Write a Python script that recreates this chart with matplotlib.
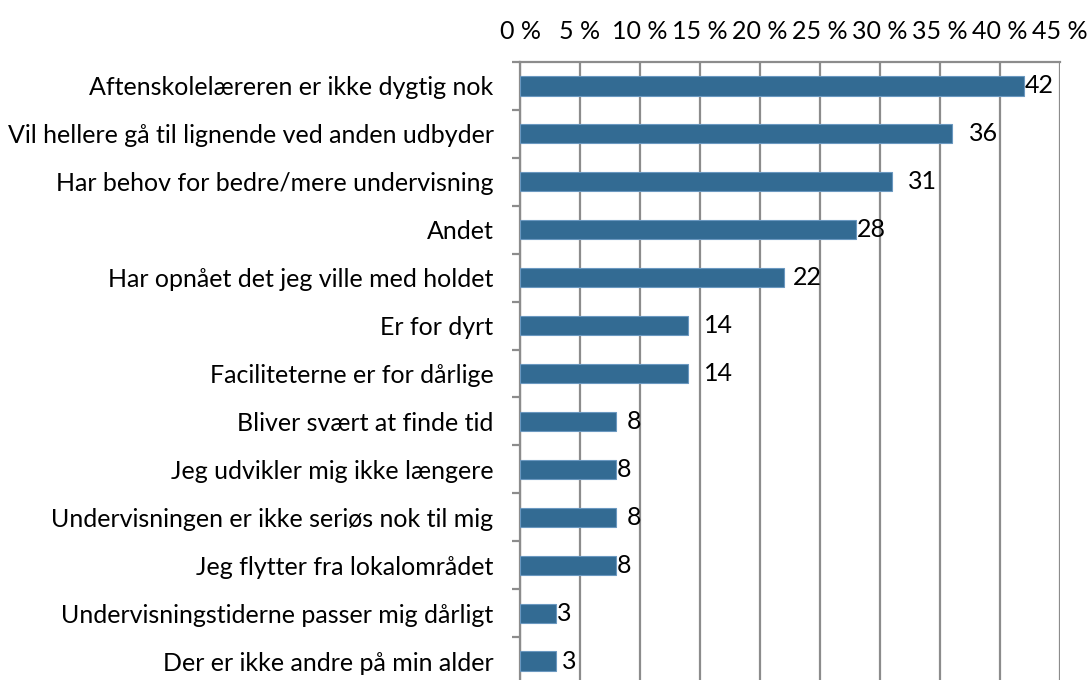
import matplotlib
matplotlib.use("Agg")
import matplotlib.pyplot as plt
import numpy as np
from matplotlib.ticker import FixedLocator, FuncFormatter

categories = [
    "Aftenskolelæreren er ikke dygtig nok",
    "Vil hellere gå til lignende ved anden udbyder",
    "Har behov for bedre/mere undervisning",
    "Andet",
    "Har opnået det jeg ville med holdet",
    "Er for dyrt",
    "Faciliteterne er for dårlige",
    "Bliver svært at finde tid",
    "Jeg udvikler mig ikke længere",
    "Undervisningen er ikke seriøs nok til mig",
    "Jeg flytter fra lokalområdet",
    "Undervisningstiderne passer mig dårligt",
    "Der er ikke andre på min alder",
]
values = [42, 36, 31, 28, 22, 14, 14, 8, 8, 8, 8, 3, 3]
x_ticks = [0, 5, 10, 15, 20, 25, 30, 35, 40, 45]

# label gaps as placed in the original (pixels)
label_gap = [1, 17, 16, 1, 9, 16, 16, 11, 1, 11, 1, 1, 6]

plt.rcParams['font.family'] = ['Lato', 'DejaVu Sans']

BAR = '#336b93'
GRID = '#8c8c8c'
DPI = 100
FS = 18

fig = plt.figure(figsize=(10.88, 6.8), dpi=DPI)
# plot area: x 520..1060 px, y 62..685 px (bottom runs off the image)
ax = fig.add_axes([520/1088, 1 - 685/680, 540/1088, 623/680])

y = np.arange(len(categories))
ax.barh(y, values, height=0.4, color=BAR, edgecolor='#6a98c0', linewidth=0.8, zorder=3)

ax.set_xlim(0, 45)
ax.set_ylim(len(categories) - 0.5, -0.5)

ax.xaxis.tick_top()
ax.xaxis.set_major_locator(FixedLocator(x_ticks))
ax.xaxis.set_major_formatter(FuncFormatter(lambda v, p: '{} %'.format(int(v))))
ax.tick_params(axis='x', length=0, pad=14, labelsize=FS)
ax.grid(axis='x', color=GRID, linewidth=1.6, zorder=0)

ax.set_yticks(y)
ax.set_yticklabels(categories)
ax.tick_params(axis='y', length=0, pad=19, labelsize=FS)
ax.yaxis.set_minor_locator(FixedLocator(np.arange(len(categories) + 1) - 0.5))
ax.tick_params(axis='y', which='minor', length=6, width=1.6, color=GRID)

for s in ['right', 'bottom']:
    ax.spines[s].set_visible(False)
for s in ['top', 'left']:
    ax.spines[s].set_color(GRID)
    ax.spines[s].set_linewidth(1.6)

for i, v in enumerate(values):
    ax.annotate(str(v), (v, i), xytext=(label_gap[i] * 72 / DPI, 0), textcoords='offset points',
                va='center', ha='left', fontsize=FS, color='black')

fig.savefig('out.png', dpi=DPI)
